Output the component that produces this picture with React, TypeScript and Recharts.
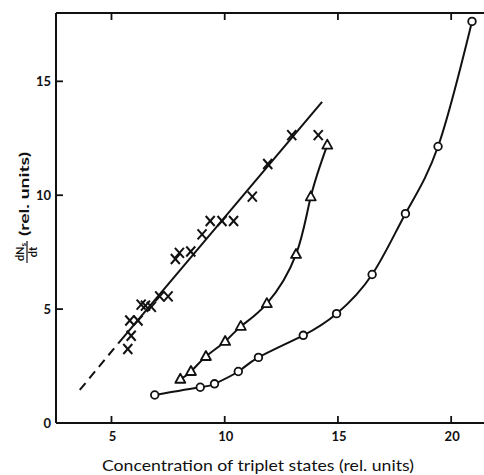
import { ComposedChart, Line, Scatter, XAxis, YAxis, Label } from 'recharts'

// straight fit through the crosses: dashed extrapolation + solid part
const fitDashed = [
  { x: 3.6, y: 1.45 },
  { x: 5.3, y: 3.5 },
]
const fitSolid = [
  { x: 5.3, y: 3.5 },
  { x: 14.3, y: 14.1 },
]

const crossX = [5.72, 5.87, 5.81, 6.17, 6.31, 6.5, 6.76, 7.13, 7.5, 7.82, 8.0, 8.5, 9.0, 9.36, 9.88, 10.39, 11.22, 11.9, 12.96, 14.13]
const crossY = [3.25, 3.83, 4.5, 4.5, 5.2, 5.15, 5.1, 5.56, 5.56, 7.2, 7.47, 7.53, 8.28, 8.87, 8.87, 8.87, 9.94, 11.37, 12.64, 12.64]

const triX = [8.04, 8.51, 9.17, 10.02, 10.71, 11.86, 13.15, 13.8, 14.53]
const triY = [1.92, 2.26, 2.92, 3.58, 4.24, 5.24, 7.4, 9.93, 12.2]

const circX = [6.91, 8.92, 9.55, 10.6, 11.49, 13.47, 14.94, 16.51, 17.98, 19.42, 20.92]
const circY = [1.23, 1.57, 1.72, 2.26, 2.88, 3.85, 4.8, 6.52, 9.19, 12.14, 17.63]

const xTicks = [5, 10, 15, 20]
const yTicks = [0, 5, 10, 15]

const zip = (xs: number[], ys: number[]) => xs.map((x, i) => ({ x, y: ys[i] }))
const crosses = zip(crossX, crossY)
const triangles = zip(triX, triY)
const circles = zip(circX, circY)

const X_DOMAIN = [2.55, 21.45]
const Y_DOMAIN = [0, 18]
const INK = '#111'
const FONT = 'Lato, "Noto Sans", sans-serif'

// anchor points for the inward tick marks on the frame
const bottomTickPts = xTicks.map((x) => ({ x, y: Y_DOMAIN[0] }))
const topTickPts = xTicks.map((x) => ({ x, y: Y_DOMAIN[1] }))
const leftTickPts = yTicks.slice(1).map((y) => ({ x: X_DOMAIN[0], y }))

const CrossShape = (p: any) => (
  <g stroke={INK} strokeWidth={2}>
    <line x1={p.cx - 4.5} y1={p.cy - 5} x2={p.cx + 4.5} y2={p.cy + 5} />
    <line x1={p.cx + 4.5} y1={p.cy - 5} x2={p.cx - 4.5} y2={p.cy + 5} />
  </g>
)

const TriShape = (p: any) => (
  <polygon
    points={`${p.cx},${p.cy - 5.5} ${p.cx + 5},${p.cy + 3.5} ${p.cx - 5},${p.cy + 3.5}`}
    fill="#fff"
    stroke={INK}
    strokeWidth={1.8}
    strokeLinejoin="round"
  />
)

const CircShape = (p: any) => <circle cx={p.cx} cy={p.cy} r={3.8} fill="#fff" stroke={INK} strokeWidth={1.8} />

const TickUp = (p: any) => <line x1={p.cx} y1={p.cy} x2={p.cx} y2={p.cy - 7} stroke={INK} strokeWidth={1.8} />
const TickDown = (p: any) => <line x1={p.cx} y1={p.cy} x2={p.cx} y2={p.cy + 7} stroke={INK} strokeWidth={1.8} />
const TickRight = (p: any) => <line x1={p.cx} y1={p.cy} x2={p.cx + 7} y2={p.cy} stroke={INK} strokeWidth={1.8} />

const BottomTick = ({ x, y, payload }: any) => (
  <text x={x + 1} y={y + 18} textAnchor="middle" fontSize={13} fontWeight={700} fontFamily={FONT} fill={INK}>
    {payload.value}
  </text>
)

const LeftTick = ({ x, y, payload }: any) => (
  <text x={x - 5} y={y + 5} textAnchor="end" fontSize={13} fontWeight={700} fontFamily={FONT} fill={INK}>
    {payload.value}
  </text>
)

// rotated "dNs/dt (rel. units)" title
const YTitle = () => (
  <g transform="translate(24,208) rotate(-90)" fontFamily={FONT} fill={INK}>
    <text x={-44} y={0} textAnchor="middle" fontSize={11} fontWeight={700}>
      dN<tspan fontSize={8} dy={2}>s</tspan>
    </text>
    <line x1={-55} y1={3} x2={-33} y2={3} stroke={INK} strokeWidth={1.2} />
    <text x={-44} y={13} textAnchor="middle" fontSize={11} fontWeight={700}>
      dt
    </text>
    <text x={14} y={5} textAnchor="middle" fontSize={14} fontWeight={700} textLength={84} lengthAdjust="spacingAndGlyphs">
      (rel. units)
    </text>
  </g>
)

const XTitle = () => (
  <text x={258} y={471} textAnchor="middle" fontSize={16} fontFamily={FONT} fill={INK} textLength={312} lengthAdjust="spacingAndGlyphs">
    Concentration of triplet states (rel. units)
  </text>
)

export default function App() {
  return (
    <div style={{ position: 'absolute', left: 0, top: 0, background: '#fff' }}>
      <ComposedChart width={484} height={475} margin={{ top: 12, right: 0, bottom: 0, left: 0 }}>
        {/* top frame line */}
        <XAxis
          xAxisId="top"
          orientation="top"
          type="number"
          dataKey="x"
          domain={X_DOMAIN}
          height={1}
          tick={false}
          tickLine={false}
          axisLine={{ stroke: INK, strokeWidth: 2 }}
          allowDataOverflow
        />
        <XAxis
          type="number"
          dataKey="x"
          domain={X_DOMAIN}
          ticks={xTicks}
          interval={0}
          height={52}
          tickSize={0}
          tickMargin={0}
          tickLine={false}
          tick={BottomTick}
          axisLine={{ stroke: INK, strokeWidth: 2 }}
          allowDataOverflow
        >
          <Label content={() => <XTitle />} />
        </XAxis>
        <YAxis
          type="number"
          domain={Y_DOMAIN}
          ticks={yTicks}
          interval={0}
          width={56}
          tickSize={0}
          tickMargin={0}
          tickLine={false}
          tick={LeftTick}
          axisLine={{ stroke: INK, strokeWidth: 2 }}
          allowDataOverflow
        >
          <Label content={() => <YTitle />} />
        </YAxis>

        <Line data={fitDashed} dataKey="y" type="linear" stroke={INK} strokeWidth={2} strokeDasharray="9 6" dot={false} isAnimationActive={false} />
        <Line data={fitSolid} dataKey="y" type="linear" stroke={INK} strokeWidth={2} dot={false} isAnimationActive={false} />
        <Line data={triangles} dataKey="y" type="natural" stroke={INK} strokeWidth={2} dot={false} isAnimationActive={false} />
        <Line xAxisId="top" data={circles} dataKey="y" type="natural" stroke={INK} strokeWidth={2} dot={false} isAnimationActive={false} />

        <Scatter data={crosses} dataKey="y" shape={CrossShape} isAnimationActive={false} />
        <Scatter data={triangles} dataKey="y" shape={TriShape} isAnimationActive={false} />
        <Scatter data={circles} dataKey="y" shape={CircShape} isAnimationActive={false} />

        {/* inward tick marks */}
        <Scatter data={bottomTickPts} dataKey="y" shape={TickUp} isAnimationActive={false} />
        <Scatter data={topTickPts} dataKey="y" shape={TickDown} isAnimationActive={false} />
        <Scatter data={leftTickPts} dataKey="y" shape={TickRight} isAnimationActive={false} />
      </ComposedChart>
    </div>
  )
}
